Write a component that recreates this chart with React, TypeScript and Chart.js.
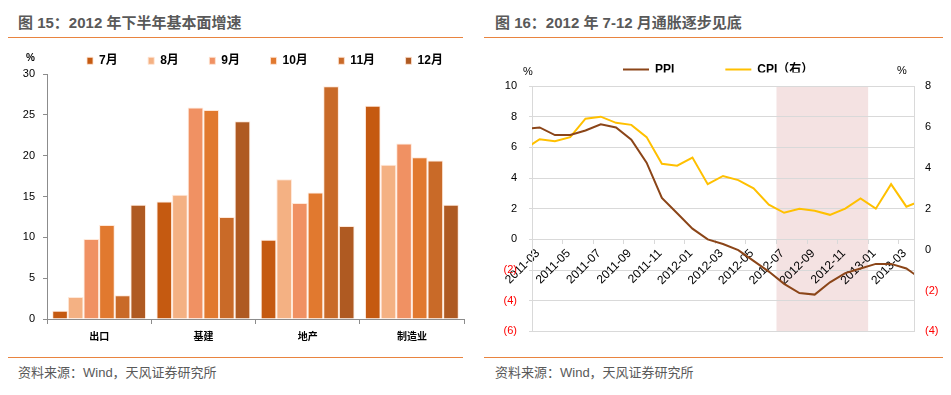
import React, { useEffect, useRef } from 'react';
import { Chart, registerables } from 'chart.js';

Chart.register(...registerables);

// ---------------- 图15 data ----------------
const barCategories = ['出口', '基建', '地产', '制造业'];
const barSeriesNames = ['7月', '8月', '9月', '10月', '11月', '12月'];
const julValues = [1.0, 14.4, 9.7, 26.1];
const augValues = [2.7, 15.2, 17.1, 18.9];
const sepValues = [9.8, 25.9, 14.2, 21.5];
const octValues = [11.5, 25.6, 15.5, 19.8];
const novValues = [2.9, 12.5, 28.5, 19.4];
const decValues = [14.0, 24.2, 11.4, 14.0];
const barAxisMin = 0;
const barAxisMax = 30;
const barAxisStep = 5;

// ---------------- 图16 data ----------------
const months = [
  '2011-02', '2011-03', '2011-04', '2011-05', '2011-06', '2011-07', '2011-08', '2011-09', '2011-10', '2011-11', '2011-12',
  '2012-01', '2012-02', '2012-03', '2012-04', '2012-05', '2012-06', '2012-07', '2012-08', '2012-09', '2012-10', '2012-11', '2012-12',
  '2013-01', '2013-02', '2013-03', '2013-04',
];
const ppiValues = [7.2, 7.3, 6.8, 6.8, 7.1, 7.5, 7.3, 6.5, 5.0, 2.7, 1.7, 0.7, 0.0, -0.3, -0.7, -1.4, -2.1, -2.9, -3.5, -3.6, -2.8, -2.2, -1.9, -1.6, -1.6, -1.9, -2.6];
const cpiValues = [4.9, 5.4, 5.3, 5.5, 6.4, 6.5, 6.2, 6.1, 5.5, 4.2, 4.1, 4.5, 3.2, 3.6, 3.4, 3.0, 2.2, 1.8, 2.0, 1.9, 1.7, 2.0, 2.5, 2.0, 3.2, 2.1, 2.4];
const xTickLabels = ['2011-03', '2011-05', '2011-07', '2011-09', '2011-11', '2012-01', '2012-03', '2012-05', '2012-07', '2012-09', '2012-11', '2013-01', '2013-03'];
const axisStartMonth = '2011-03';
const axisEndMonth = '2013-04';
const shadeStartMonth = '2012-07';
const shadeEndMonth = '2013-01';
const ppiAxisMin = -6;
const ppiAxisMax = 10;
const cpiAxisMin = -4;
const cpiAxisMax = 8;
const lineAxisStep = 2;

// ---------------- styles ----------------
const barColors = ['#C55A11', '#F4B183', '#F09163', '#E1792F', '#C96A28', '#AF5A22'];
const ppiColor = '#8B4518';
const cpiColor = '#FFC000';
const ORANGE = '#E9843F';
const TEXT_GRAY = '#595959';
const LATIN = "'Liberation Sans', Arial, 'Noto Sans CJK SC', sans-serif";
const NARROW = "'Liberation Sans Narrow', 'Liberation Sans', 'Noto Sans CJK SC', sans-serif";

const fmtNeg = (v: number) => (v < 0 ? `(${Math.abs(v)})` : `${v}`);

function legendPlacer(left: number, centerY: number, fontSize: number) {
  return {
    id: 'legendPlacer',
    afterLayout(chart: any) {
      const lg = chart.legend;
      if (!lg) return;
      const pad = lg.options.labels.padding;
      lg.left = left - pad;
      lg.right = lg.left + 3000;
      lg.top = centerY - pad - fontSize / 2;
      lg.bottom = lg.top + 60;
    },
  };
}

function BarPanel() {
  const ref = useRef<HTMLCanvasElement>(null);
  useEffect(() => {
    const series = [julValues, augValues, sepValues, octValues, novValues, decValues];
    const chart = new Chart(ref.current as HTMLCanvasElement, {
      type: 'bar',
      data: {
        labels: barCategories,
        datasets: barSeriesNames.map((name, i) => ({
          label: name,
          data: series[i],
          backgroundColor: barColors[i],
          borderColor: 'rgba(255,228,210,0.85)',
          borderWidth: 1,
          categoryPercentage: 0.9,
          barPercentage: 1.0,
        })),
      },
      options: {
        responsive: false,
        animation: false,
        events: [],
        layout: { padding: { left: 0, right: 11, top: 0, bottom: 1 } },
        plugins: {
          tooltip: { enabled: false },
          legend: {
            position: 'top',
            align: 'start',
            maxHeight: 34,
            labels: {
              boxWidth: 6,
              boxHeight: 7,
              padding: 30.5,
              color: '#000',
              font: { family: NARROW, size: 12, weight: 'bold' },
            },
          },
        },
        scales: {
          x: {
            type: 'category',
            afterFit: (s: any) => { s.height = 30; },
            grid: { drawOnChartArea: false, drawTicks: true, tickLength: 5, color: '#8C8C8C', offset: true },
            border: { color: '#8C8C8C' },
            ticks: { color: '#000', padding: 7, font: { family: LATIN, size: 10, weight: 'bold' } },
          },
          y: {
            min: barAxisMin,
            max: barAxisMax,
            afterFit: (s: any) => { s.width = 47; },
            grid: { drawOnChartArea: false, drawTicks: true, tickLength: 4, color: '#8C8C8C' },
            border: { color: '#8C8C8C' },
            ticks: { stepSize: barAxisStep, color: '#000', padding: 8, font: { family: NARROW, size: 11 } },
          },
        },
      },
      plugins: [legendPlacer(87, 20.8, 12)],
    } as any);
    return () => chart.destroy();
  }, []);
  return (
    <canvas ref={ref} width={475} height={310}
      style={{ position: 'absolute', left: 0, top: 40, width: 475, height: 310 }} />
  );
}

function LinePanel() {
  const ref = useRef<HTMLCanvasElement>(null);
  useEffect(() => {
    const start = months.indexOf(axisStartMonth);
    const toX = (i: number) => i - start + 0.5;
    const ppiPoints = ppiValues.map((v, i) => ({ x: toX(i), y: v }));
    const cpiPoints = cpiValues.map((v, i) => ({ x: toX(i), y: v }));
    const shadeFrom = months.indexOf(shadeStartMonth) - start;
    const shadeTo = months.indexOf(shadeEndMonth) - start;
    const bandPlugin = {
      id: 'band',
      beforeDraw(chart: any) {
        const { ctx, chartArea, scales } = chart;
        const x0 = scales.x.getPixelForValue(shadeFrom);
        const x1 = scales.x.getPixelForValue(shadeTo);
        ctx.save();
        ctx.fillStyle = '#F4E2E2';
        ctx.fillRect(x0, chartArea.top, x1 - x0, chartArea.bottom - chartArea.top);
        ctx.restore();
      },
    };
    const negRed = (c: any) => (c.tick && c.tick.value < 0 ? '#FF0000' : '#000');
    const chart = new Chart(ref.current as HTMLCanvasElement, {
      type: 'line',
      data: {
        datasets: [
          { label: 'PPI', data: ppiPoints, yAxisID: 'y', borderColor: ppiColor, backgroundColor: ppiColor, borderWidth: 2, pointRadius: 0, tension: 0 },
          { label: 'CPI（右）', data: cpiPoints, yAxisID: 'y1', borderColor: cpiColor, backgroundColor: cpiColor, borderWidth: 2, pointRadius: 0, tension: 0 },
        ],
      },
      options: {
        responsive: false,
        animation: false,
        events: [],
        layout: { padding: { left: 0, right: 0, top: 0, bottom: 17 } },
        plugins: {
          tooltip: { enabled: false },
          legend: {
            position: 'top',
            align: 'start',
            maxHeight: 46,
            labels: {
              usePointStyle: true,
              pointStyle: 'line',
              pointStyleWidth: 26,
              padding: 51,
              color: '#000',
              font: { family: LATIN, size: 12, weight: 'bold' },
            },
          },
        },
        scales: {
          x: {
            type: 'linear',
            axis: 'x',
            position: { y: 0 },
            min: 0,
            max: months.indexOf(axisEndMonth) - start,
            afterBuildTicks: (s: any) => {
              s.ticks = xTickLabels.map((l) => ({ value: months.indexOf(l) - start }));
            },
            afterFit: (s: any) => { s.height = 0; },
            grid: { drawOnChartArea: false, drawTicks: true, tickLength: 4, color: '#D9D9D9' },
            border: { color: '#D9D9D9' },
            ticks: {
              stepSize: 1,
              autoSkip: false,
              minRotation: 45,
              maxRotation: 45,
              padding: 3,
              labelOffset: 6,
              color: '#000',
              font: { family: LATIN, size: 12 },
              callback: (_v: any, i: number) => xTickLabels[i],
            },
          },
          y: {
            position: 'left',
            min: ppiAxisMin,
            max: ppiAxisMax,
            afterFit: (s: any) => { s.width = 52; },
            grid: { color: '#D9D9D9', drawTicks: true, tickLength: 3 },
            border: { color: '#D9D9D9' },
            ticks: { stepSize: lineAxisStep, padding: 12, color: negRed, font: { family: LATIN, size: 11 }, callback: (v: any) => fmtNeg(Number(v)) },
          },
          y1: {
            position: 'right',
            min: cpiAxisMin,
            max: cpiAxisMax,
            afterFit: (s: any) => { s.width = 37; },
            grid: { drawOnChartArea: false, drawTicks: false },
            border: { color: '#D9D9D9' },
            ticks: { stepSize: lineAxisStep, padding: 11, color: negRed, font: { family: LATIN, size: 11 }, callback: (v: any) => fmtNeg(Number(v)) },
          },
        },
      },
      plugins: [bandPlugin, legendPlacer(143, 29.5, 12)],
    } as any);
    return () => chart.destroy();
  }, []);
  return (
    <canvas ref={ref} width={471} height={310}
      style={{ position: 'absolute', left: 480, top: 40, width: 471, height: 310 }} />
  );
}

const abs = (left: number, top: number, extra: React.CSSProperties = {}): React.CSSProperties => ({
  position: 'absolute', left, top, whiteSpace: 'nowrap', margin: 0, ...extra,
});

export default function App() {
  const titleStyle: React.CSSProperties = { font: `bold 15px ${LATIN}`, color: TEXT_GRAY, lineHeight: '18px' };
  const srcStyle: React.CSSProperties = { font: `13px ${LATIN}`, color: TEXT_GRAY, lineHeight: '16px' };
  return (
    <div style={{ position: 'fixed', left: 0, top: 0, width: 951, height: 395, background: '#fff', overflow: 'hidden' }}>
      <div style={abs(18, 14, titleStyle)}>图 15：2012 年下半年基本面增速</div>
      <div style={abs(495, 14, titleStyle)}>图 16：2012 年 7-12 月通胀逐步见底</div>
      <div style={abs(8, 36.5, { width: 455, height: 1.5, background: ORANGE })} />
      <div style={abs(484, 36.5, { width: 459, height: 1.5, background: ORANGE })} />

      <BarPanel />
      <LinePanel />

      <div style={abs(26, 51, { font: `bold 10px ${NARROW}`, color: '#000', lineHeight: '14px' })}>%</div>
      <div style={abs(523, 64, { font: `11px ${LATIN}`, color: '#000', lineHeight: '14px' })}>%</div>
      <div style={abs(897, 63, { font: `11px ${LATIN}`, color: '#000', lineHeight: '14px' })}>%</div>

      <div style={abs(8, 356.5, { width: 455, height: 1.5, background: ORANGE })} />
      <div style={abs(484, 356.5, { width: 459, height: 1.5, background: ORANGE })} />
      <div style={abs(18, 365, srcStyle)}>资料来源：Wind，天风证券研究所</div>
      <div style={abs(495, 365, srcStyle)}>资料来源：Wind，天风证券研究所</div>
    </div>
  );
}
